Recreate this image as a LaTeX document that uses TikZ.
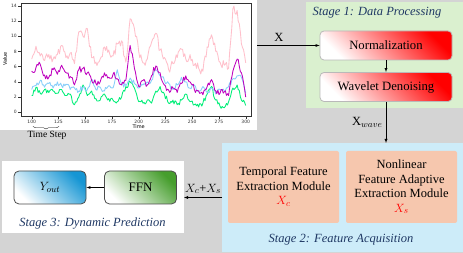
\documentclass[tikz,border=0pt]{standalone}
\usepackage{fontspec}
\setmainfont{Liberation Serif}
\newfontfamily\plotfont{DejaVu Sans}
\usepackage{tikz}
\usetikzlibrary{positioning, decorations.pathreplacing}
\usepackage{xcolor}
\definecolor{bggray}{RGB}{212,212,212}
\definecolor{stageone}{RGB}{218,240,207}
\definecolor{stagetwo}{RGB}{205,236,249}
\definecolor{modfill}{RGB}{246,199,174}
\definecolor{titleblue}{RGB}{31,56,100}
\definecolor{boxblue}{RGB}{22,150,212}
\definecolor{boxgreen}{RGB}{70,158,45}
\definecolor{serpink}{RGB}{255,192,203}
\definecolor{serpurple}{RGB}{190,0,190}
\definecolor{serblue}{RGB}{135,206,250}
\definecolor{sergreen}{RGB}{0,238,120}

\begin{document}
\begin{tikzpicture}[x=1pt, y=-1pt, >=latex,
    panel/.style={inner sep=0pt, outer sep=0pt},
    stagetitle/.style={font=\itshape\fontsize{12.5}{14}\selectfont, text=titleblue},
    procbox/.style={draw=gray!55, line width=0.8pt, rounded corners=4pt,
      minimum width=132pt, minimum height=29pt, top color=red, bottom color=white,
      shading angle=-45, font=\fontsize{12.7}{15}\selectfont},
    modbox/.style={fill=modfill, rounded corners=2pt, minimum width=111pt,
      minimum height=72pt, align=center, font=\fontsize{12.5}{14.5}\selectfont},
    outbox/.style={draw=black!70, line width=0.8pt, rounded corners=5pt,
      minimum width=72pt, minimum height=33pt, top color=#1, bottom color=white,
      shading angle=-45, font=\fontsize{13}{15}\selectfont},
    series/.style={line width=0.85pt, line join=round},
    lbl/.style={font=\fontsize{12.5}{14}\selectfont}]
  \useasboundingbox (0,0) rectangle (463,253);
  \fill[bggray] (0,0) rectangle (463,253);

  % Time series plot (four series, Value vs Time)
  \node[panel, fill=white, minimum width=257pt, minimum height=130pt] (plotpanel) at (128.5,65) {};
  \begin{scope}[shift={(31.7,112.3)}, x=1.07pt, y=7.6pt,
      font=\plotfont\fontsize{4.5}{5}\selectfont]
    \pgfmathsetseed{11}
    \draw[black!80, line width=0.4pt] (-10,-0.5) rectangle (205,14.4);
    \foreach \t in {100,125,...,300}
      \draw[black!80, line width=0.4pt] ({\t-100},-0.5) -- ({\t-100},-0.9)
        node[below, inner sep=1pt] {\t};
    \foreach \v in {0,2,...,14}
      \draw[black!80, line width=0.4pt] (-10,\v) -- (-12.8,\v)
        node[left, inner sep=1pt] {\v};
    \node[font=\plotfont\fontsize{5}{6}\selectfont] (xlabel) at (100,-1.9) {Time};
    \node[font=\plotfont\fontsize{5}{6}\selectfont, rotate=90] (ylabel) at (-25,7) {Value};
    % pink series
    \draw[serpink, series] (0,7.0)
      \foreach \v [count=\i, remember=\v as \p (initially 7.0)] in {
        8.7,7.4,6.8,7.6,7.0,7.6,8.8,7.2,7.8,6.4,10.6,10.0,11.0,7.2,6.6,7.0,8.6,8.2,7.4,
        9.0,9.4,6.6,12.3,11.0,8.0,6.5,7.0,9.2,10.4,8.2,7.2,5.6,6.4,7.2,8.3,7.0,7.6,6.2,
        5.8,5.4,8.6,10.2,8.0,6.6,6.2,5.8,13.6,13.4,9.0,6.5}
      { -- ({4*\i-3},{\p+0.25*(\v-\p)+0.6*rand}) -- ({4*\i-2},{(\p+\v)/2+0.6*rand})
        -- ({4*\i-1},{\p+0.75*(\v-\p)+0.6*rand}) -- ({4*\i},\v) };
    % green series
    \draw[sergreen, series] (0,2.2)
      \foreach \v [count=\i, remember=\v as \p (initially 2.2)] in {
        3.3,2.5,3.0,2.6,2.8,2.5,3.0,2.2,2.4,1.0,2.0,3.6,2.2,2.8,1.8,1.6,2.4,1.8,1.6,
        1.4,2.0,3.4,4.0,3.2,1.4,1.2,1.6,1.2,2.8,3.4,2.4,1.2,1.6,1.0,1.6,2.4,1.4,1.0,
        0.7,1.2,2.4,3.4,1.6,0.8,0.6,1.4,3.2,3.6,1.6,0.9}
      { -- ({4*\i-3},{\p+0.25*(\v-\p)+0.35*rand}) -- ({4*\i-2},{(\p+\v)/2+0.35*rand})
        -- ({4*\i-1},{\p+0.75*(\v-\p)+0.35*rand}) -- ({4*\i},\v) };
    % light blue series
    \draw[serblue, series] (0,3.0)
      \foreach \v [count=\i, remember=\v as \p (initially 3.0)] in {
        3.5,4.2,3.3,3.8,3.2,4.0,3.5,3.7,3.0,3.2,2.8,3.3,3.0,4.3,3.0,3.3,2.8,3.5,3.2,
        5.6,3.8,3.5,4.5,3.8,3.2,3.6,4.0,4.2,5.6,4.8,4.2,3.8,3.0,3.6,4.6,4.0,3.2,3.6,
        2.8,3.4,2.6,3.2,2.4,3.0,2.8,3.4,4.4,4.8,4.6,2.5}
      { -- ({4*\i-3},{\p+0.25*(\v-\p)+0.35*rand}) -- ({4*\i-2},{(\p+\v)/2+0.35*rand})
        -- ({4*\i-1},{\p+0.75*(\v-\p)+0.35*rand}) -- ({4*\i},\v) };
    % purple series
    \draw[serpurple, series] (0,5.4)
      \foreach \v [count=\i, remember=\v as \p (initially 5.4)] in {
        5.9,6.3,4.9,4.6,5.6,5.0,6.2,5.2,4.7,3.6,5.6,5.8,5.2,4.2,3.8,4.0,5.2,4.6,5.0,
        4.4,3.6,4.2,8.8,5.8,3.4,4.2,3.6,4.8,6.1,5.2,3.6,2.9,3.2,2.6,3.8,4.8,4.0,3.0,
        2.8,2.3,3.4,4.3,2.8,2.5,2.7,2.2,5.4,7.0,5.2,2.0}
      { -- ({4*\i-3},{\p+0.25*(\v-\p)+0.45*rand}) -- ({4*\i-2},{(\p+\v)/2+0.45*rand})
        -- ({4*\i-1},{\p+0.75*(\v-\p)+0.45*rand}) -- ({4*\i},\v) };
  \end{scope}
  \draw[decorate, decoration={brace, mirror, amplitude=2.5pt}, line width=0.4pt]
    (33,126.5) -- (59,126.5);
  \node[font=\fontsize{9.5}{11}\selectfont] (timestep) at (47,135.5) {Time Step};

  % Stage 1: data processing
  \node[panel, fill=stageone, minimum width=157pt, minimum height=106pt] (stage1) at (384.5,55.5) {};
  \node[stagetitle] (title1) at (377,13) {Stage 1: Data Processing};
  \node[procbox] (norm) at (386,45.5) {Normalization};
  \node[procbox] (wave) at (386,87) {Wavelet Denoising};
  \draw[->] (plotpanel.east |- norm.west) -- node[lbl, above, pos=0.35] {X} (norm.west);
  \draw[->] (norm.south) -- (wave.north);

  % Stage 2: feature acquisition
  \node[panel, fill=stagetwo, minimum width=241pt, minimum height=109pt] (stage2) at (342.5,197.5) {};
  \node[modbox] (temporal) at (283.5,187)
    {Temporal Feature\\Extraction Module\\{\color{red}$X_c$}};
  \node[modbox] (nonlin) at (401.5,187)
    {Nonlinear\\Feature Adaptive\\Extraction Module\\{\color{red}$X_s$}};
  \node[stagetitle] (title2) at (341,240) {Stage 2: Feature Acquisition};
  \draw[->] (wave.south) -- node[lbl, left] {X$_{wave}$} (wave.south |- stage2.north);

  % Stage 3: dynamic prediction
  \node[panel, fill=white, minimum width=182pt, minimum height=72pt] (stage3) at (93,197) {};
  \node[outbox=boxblue] (yout) at (50,187.5) {$Y_{out}$};
  \node[outbox=boxgreen] (ffn) at (140.5,187.5) {FFN};
  \node[stagetitle] (title3) at (92.5,224) {Stage 3: Dynamic Prediction};
  \draw[->] (ffn.west) -- (yout.east);
  \draw[->] (stage2.west) -- node[lbl, above] {$X_c$+$X_s$} (stage2.west -| stage3.east);
\end{tikzpicture}
\end{document}
